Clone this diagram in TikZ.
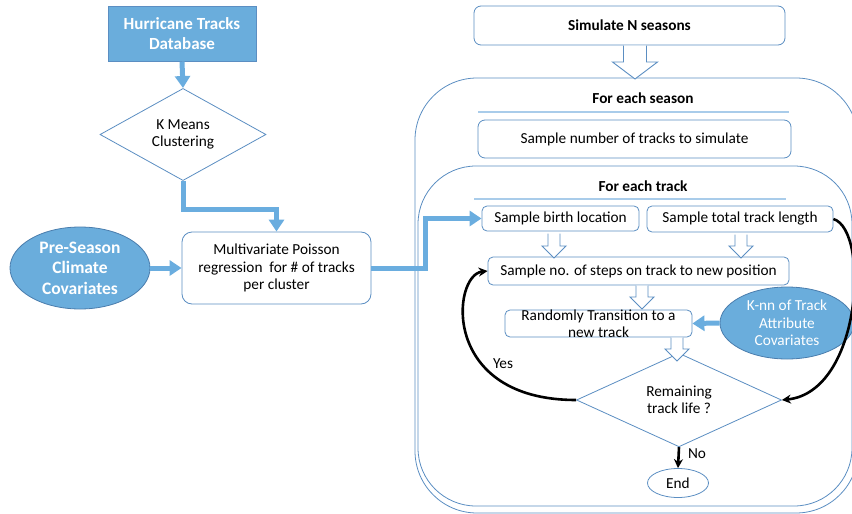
\documentclass[tikz,border=0pt]{standalone}
\usepackage{fontspec}
\setmainfont{Carlito}
\usetikzlibrary{shapes.geometric,arrows.meta,calc}
\definecolor{fillblue}{HTML}{6AADDC}
\definecolor{edgeblue}{HTML}{5B8EC2}
\definecolor{darkedge}{HTML}{4A7DAD}
\definecolor{flowblue}{HTML}{6AADDF}
\definecolor{ruleblue}{HTML}{A9CCEA}
\newcommand\hollowarrow[6]{%
  \draw[hollow] (#1-#4,#2) -- (#1-#4,#6) -- (#1-#5,#6) -- (#1,#3) -- (#1+#5,#6) -- (#1+#4,#6) -- (#1+#4,#2);}
\begin{document}
\begin{tikzpicture}[x=1pt,y=-1pt,
  every node/.style={font=\fontsize{15.3}{17.5}\selectfont, inner sep=0pt, align=center},
  box/.style={draw=edgeblue, line width=0.8pt, rounded corners=7pt, rectangle, fill=white},
  bigbox/.style={draw=edgeblue, line width=0.8pt, rounded corners=62pt},
  bluebox/.style={draw=edgeblue, line width=1pt, fill=fillblue, text=white,
     font=\fontsize{17}{20}\selectfont\bfseries},
  blueell/.style={ellipse, draw=darkedge, line width=0.8pt, fill=fillblue, text=white},
  dia/.style={diamond, draw=edgeblue, line width=0.8pt, fill=white},
  flow/.style={draw=flowblue, line width=5pt, -{Triangle[width=15pt,length=12pt]}},
  back/.style={draw=black, line width=2.6pt, -{Stealth[width=9pt,length=9pt]}},
  hollow/.style={draw=edgeblue, line width=0.9pt, fill=white, line join=miter},
  ttl/.style={font=\fontsize{15.3}{17.5}\selectfont\bfseries},
  rulel/.style={draw=ruleblue, line width=1.2pt}
]
\useasboundingbox (0,0) rectangle (852,514);
\begin{scope}
\clip (0,0) rectangle (852,514);
% containers
\draw[bigbox] (415,78) rectangle (858,513);
\draw[bigbox, rounded corners=58pt] (418,166) rectangle (852,506);

% left column
\node[bluebox, minimum width=148pt, minimum height=55pt] (hur) at (182,33.5) {Hurricane Tracks\\Database};
\node[dia, minimum width=166pt, minimum height=75pt] (kmeans) at (183,134.5) {K Means\\Clustering};
\node[box, minimum width=189pt, minimum height=72pt, rounded corners=10pt] (mvp) at (276.5,268) {Multivariate Poisson\\regression \ for \# of tracks\\per cluster};
\node[blueell, minimum width=140pt, minimum height=82pt, font=\fontsize{17.5}{20.5}\selectfont\bfseries] (pre) at (80,268) {Pre-Season\\Climate\\Covariates};

% right part
\node[box, minimum width=311pt, minimum height=39pt, ttl] (sim) at (629.5,25.5) {Simulate N seasons};
\node[ttl] (season) at (643,98) {For each season};
\coordinate (sr1) at (478,112);
\coordinate (sr2) at (789,112);
\draw[rulel] (sr1) -- (sr2);
\node[box, minimum width=313pt, minimum height=38pt] (nsamp) at (634.5,139) {Sample number of tracks to simulate};
\node[ttl] (track) at (643,186) {For each track};
\coordinate (tr1) at (474,199);
\coordinate (tr2) at (786,199);
\draw[rulel] (tr1) -- (tr2);
\node[box, minimum width=157pt, minimum height=25pt, rounded corners=5pt] (birth) at (560.5,218.5) {Sample birth location};
\node[box, minimum width=186pt, minimum height=26pt, rounded corners=5pt] (total) at (740,219) {Sample total track length};
\node[box, minimum width=301pt, minimum height=28pt, rounded corners=5pt] (steps) at (638.5,271) {Sample no. of steps on track to new position};
\node[box, minimum width=187pt, minimum height=27pt, rounded corners=5pt,
  label={[align=center]center:Randomly Transition to a\\new track}] (rand) at (598.5,323.5) {};
\node[blueell, minimum width=134pt, minimum height=72pt] (knn) at (787,323) {K-nn of Track\\Attribute\\Covariates};
\node[dia, minimum width=205pt, minimum height=78pt] (remain) at (679,400) {Remaining\\track life ?};
\node[ellipse, draw=edgeblue, line width=0.8pt, minimum width=61pt, minimum height=29pt] (end) at (678,483) {End};

% hollow block arrows
\hollowarrow{635}{45.5}{79}{11.5}{22.5}{62}
\hollowarrow{554}{233.5}{258}{6}{12}{246}
\hollowarrow{741}{234.5}{258}{6}{12}{246}
\hollowarrow{642}{285.5}{309}{6}{12}{297}
\hollowarrow{677}{337.5}{361}{6}{12}{349}

% thick blue flows
\draw[flow] (hur.south) -- (kmeans.north);
\draw[flow] (kmeans.south) -- ++(0,29) -| (mvp.north);
\draw[flow] (pre.east) -- (mvp.west);
\draw[flow] (mvp.east) -- ++(54,0) |- (birth.west);
\draw[flow] (knn.west) -- (rand.east);

% black loops
\draw[back] (remain.south) -- (end.north) node[pos=0.3, right=8pt] (nolbl) {No};
\draw[back] (remain.west) .. controls (440,400) and (452,275) .. (steps.west);
\node (yeslbl) at (503,364) {Yes};
\draw[back] (total.east) .. controls (870,230) and (862,392) .. (remain.east);
\end{scope}
\end{tikzpicture}
\end{document}
